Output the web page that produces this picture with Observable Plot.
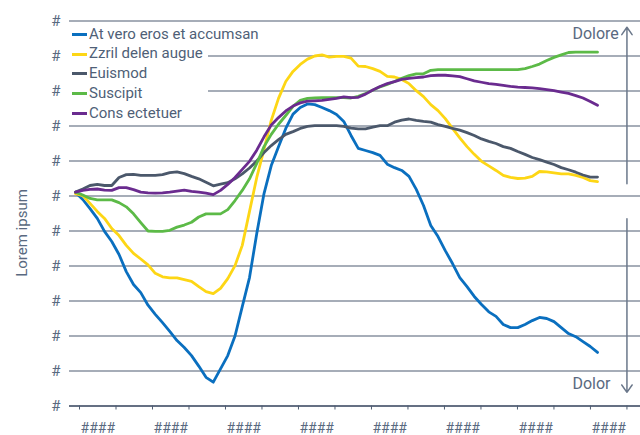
<!DOCTYPE html>
<html><head><meta charset="utf-8">
<script src="https://cdn.jsdelivr.net/npm/d3@7"></script>
<script src="https://cdn.jsdelivr.net/npm/@observablehq/plot@0.6"></script>
<style>
body{margin:0;background:#fff;font-family:Roboto,sans-serif;}
#wrap{position:relative;width:640px;height:435px;overflow:hidden;}
#legend{position:absolute;left:69px;top:24.5px;width:139px;background:#fff;z-index:2;}
.item{height:19.8px;line-height:19.8px;font-size:15px;color:#4f5f77;white-space:nowrap;display:flex;align-items:center;}
.sw{width:15px;height:3px;margin-left:3px;margin-right:2px;flex:none;}
#ytitle{position:absolute;left:22px;top:233px;transform:translate(-50%,-50%) rotate(-90deg);font-size:15px;color:#596980;white-space:nowrap;z-index:2;}
</style></head><body><div id="wrap"><div id="legend"></div><div id="ytitle"></div></div>
<script>
const seriesNames = ["At vero eros et accumsan","Zzril delen augue","Euismod","Suscipit","Cons ectetuer"];
const seriesColors = ["#0a6fbf","#fdd615","#4b586b","#5cba47","#6a2b8f"];
const xLabels = ["####","####","####","####","####","####","####","####"];
const yLabels = ["#","#","#","#","#","#","#","#","#","#","#","#"];
const yTitle = "Lorem ipsum";

const blue = [6.10,5.90,5.64,5.36,4.99,4.70,4.33,3.84,3.47,3.24,
  2.88,2.62,2.38,2.13,1.87,1.67,1.44,1.14,0.82,0.68,
  1.06,1.44,2.00,2.84,3.67,4.93,6.07,6.87,7.41,7.93,
  8.34,8.53,8.63,8.61,8.53,8.44,8.33,8.13,7.73,7.36,
  7.30,7.24,7.16,6.91,6.81,6.73,6.56,6.19,5.73,5.16,
  4.84,4.44,4.07,3.67,3.41,3.13,2.90,2.69,2.56,2.33,
  2.24,2.24,2.33,2.44,2.53,2.50,2.41,2.24,2.07,1.98,
  1.84,1.70,1.53];
const yellow = [6.07,6.01,5.79,5.56,5.36,5.07,4.87,4.59,4.36,4.20,
  4.03,3.79,3.69,3.66,3.66,3.61,3.56,3.41,3.27,3.21,
  3.36,3.64,4.01,4.59,5.56,6.53,7.33,8.16,8.79,9.27,
  9.56,9.76,9.91,10.00,10.03,9.97,9.99,9.99,9.94,9.71,
  9.70,9.64,9.56,9.42,9.40,9.33,9.21,9.01,8.84,8.61,
  8.44,8.21,7.93,7.66,7.41,7.19,6.99,6.86,6.73,6.59,
  6.53,6.50,6.51,6.56,6.70,6.69,6.66,6.63,6.63,6.59,
  6.53,6.44,6.41];
const gray = [6.11,6.20,6.30,6.33,6.30,6.30,6.53,6.61,6.62,6.59,
  6.59,6.59,6.61,6.67,6.69,6.64,6.56,6.49,6.39,6.29,
  6.34,6.38,6.49,6.63,6.80,7.00,7.24,7.44,7.61,7.76,
  7.84,7.93,7.99,8.01,8.01,8.01,8.01,7.99,7.94,7.92,
  7.92,7.97,8.01,8.01,8.11,8.17,8.20,8.16,8.13,8.11,
  8.04,7.99,7.93,7.88,7.81,7.73,7.63,7.56,7.50,7.41,
  7.36,7.27,7.19,7.10,7.04,6.97,6.90,6.81,6.75,6.68,
  6.60,6.54,6.54];
const green = [6.11,6.03,5.93,5.89,5.89,5.89,5.81,5.69,5.49,5.24,
  5.00,4.99,4.99,5.02,5.11,5.17,5.25,5.40,5.49,5.49,
  5.49,5.61,5.87,6.16,6.49,6.93,7.41,7.76,8.05,8.30,
  8.56,8.73,8.79,8.80,8.81,8.81,8.81,8.81,8.80,8.85,
  8.93,9.02,9.12,9.19,9.27,9.36,9.44,9.49,9.49,9.59,
  9.61,9.61,9.61,9.61,9.61,9.61,9.61,9.61,9.61,9.61,
  9.61,9.61,9.64,9.70,9.77,9.87,9.96,10.03,10.10,10.11,
  10.11,10.11,10.11];
const purple = [6.11,6.16,6.19,6.20,6.17,6.16,6.24,6.24,6.18,6.11,
  6.09,6.08,6.09,6.11,6.14,6.17,6.13,6.11,6.08,6.04,
  6.16,6.33,6.53,6.76,6.99,7.31,7.69,8.03,8.24,8.43,
  8.57,8.66,8.71,8.72,8.73,8.76,8.79,8.83,8.81,8.82,
  8.91,9.03,9.13,9.21,9.27,9.33,9.36,9.38,9.40,9.44,
  9.45,9.45,9.43,9.41,9.35,9.29,9.25,9.21,9.19,9.16,
  9.13,9.11,9.10,9.09,9.07,9.04,9.01,8.97,8.93,8.87,
  8.80,8.70,8.59];

const arrowLabels = ["Dolore","Dolor"];
const arrowFrom = [6.35, 5.35];
const arrowTo = [10.82, 0.39];
const arrowLabelAt = [10.64, 0.64];

const seriesValues = [blue, yellow, gray, green, purple];
const textColor = "#596980";
const gridColor = "#4f5d72";

const tickStart = 0.55, tickStep = 5.034;
const tickPos = d3.range(16).map(k => tickStart + k * tickStep);
const labelPos = xLabels.map((_, k) => tickStart + (2 * k + 0.5) * tickStep);
const yTicks = yLabels.map((_, i) => i);

const lineMarks = seriesValues.map((vals, s) =>
  Plot.line(vals.map((v, i) => ({i, v})), {x: "i", y: "v", stroke: seriesColors[s], strokeWidth: 2.8, strokeLinejoin: "round"})
);

const chart = Plot.plot({
  width: 640, height: 435,
  marginLeft: 69, marginRight: 0, marginTop: 20.5, marginBottom: 29.5,
  style: {fontFamily: "Roboto, sans-serif", fontSize: "15px", color: textColor, background: "#fff"},
  x: {domain: [-0.83, 77.93]},
  y: {domain: [0, 11]},
  marks: [
    Plot.gridY(yTicks, {stroke: gridColor, strokeOpacity: 1, strokeWidth: 1.2}),
    Plot.axisY(yTicks, {tickSize: 0, tickPadding: 9, tickFormat: d => yLabels[d], label: null, fontSize: 15}),
    Plot.ruleY([0], {stroke: gridColor, strokeWidth: 1.5}),
    Plot.axisX(tickPos, {tickSize: 4, tickFormat: () => "", label: null, stroke: gridColor}),
    Plot.axisX(labelPos, {tickSize: 0, tickPadding: 17, tickFormat: d => xLabels[labelPos.indexOf(d)], label: null, fontSize: 14}),
    ...lineMarks,
    Plot.arrow(arrowLabels, {x: () => tickPos[15], y1: (d, i) => arrowFrom[i], y2: (d, i) => arrowTo[i], stroke: "#6b788b", strokeWidth: 1.5, headLength: 9, headAngle: 70}),
    Plot.text(arrowLabels, {x: () => tickPos[15], y: (d, i) => arrowLabelAt[i], text: d => d, dx: -54.5, textAnchor: "start", fill: textColor, fontSize: 16})
  ]
});
const wrap = document.getElementById("wrap");
wrap.appendChild(chart);
chart.style.position = "absolute"; chart.style.left = "0"; chart.style.top = "0";
document.getElementById("ytitle").textContent = yTitle;
const legend = document.getElementById("legend");
seriesNames.forEach((n, s) => {
  const it = document.createElement("div"); it.className = "item";
  const sw = document.createElement("span"); sw.className = "sw"; sw.style.background = seriesColors[s];
  const tx = document.createElement("span"); tx.textContent = n;
  it.appendChild(sw); it.appendChild(tx); legend.appendChild(it);
});
</script></body></html>
